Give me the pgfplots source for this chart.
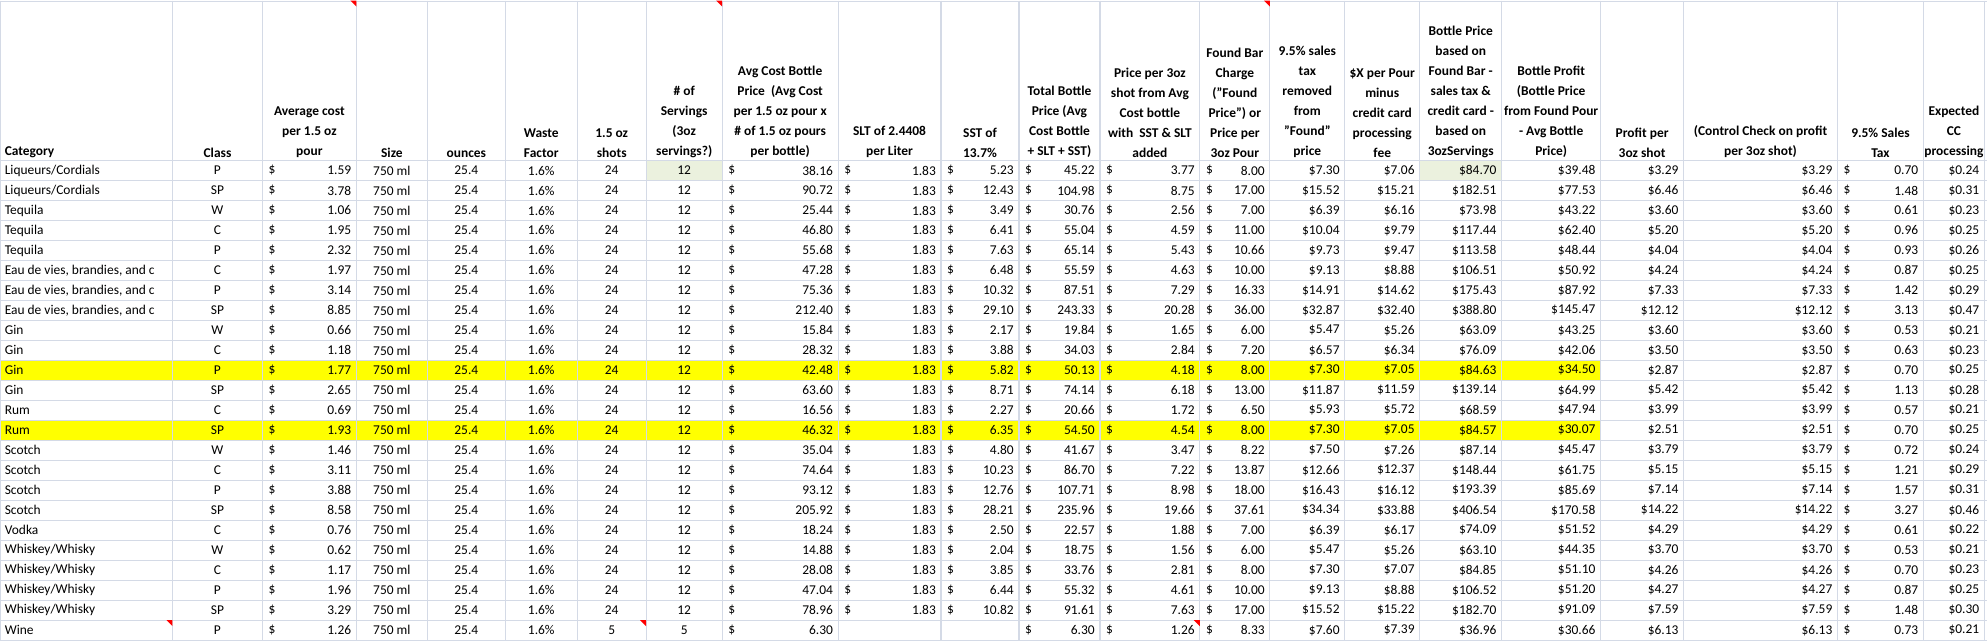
\documentclass[border=0pt]{standalone}
\usepackage{pgfplots}
\pgfplotsset{compat=1.18}
\usepackage{fontspec}
\setmainfont{Carlito}
\definecolor{gridc}{RGB}{212,218,230}
\definecolor{hly}{RGB}{255,255,0}
\definecolor{hlg}{RGB}{235,241,222}
\tikzset{cell/.style={inner sep=0pt,font=\fontsize{13.5}{20}\selectfont}}
\newcommand\Lt[3]{\node[cell,anchor=west] at (axis cs:{#1+4},{170+20*#2}) {#3};}
\newcommand\Ct[4]{\node[cell,anchor=center] at (axis cs:{(#1+#2)/2},{170+20*#3}) {#4};}
\newcommand\Rt[4]{\node[cell,anchor=east] at (axis cs:{#2-5},{170+20*#3}) {#4};}
\newcommand\Dt[4]{\if\relax\detokenize{#4}\relax\else
  \node[cell,anchor=west] at (axis cs:{#1+6},{170+20*#3}) {\$};
  \node[cell,anchor=east] at (axis cs:{#2-5},{170+20*#3}) {#4};\fi}
\newcommand\RowA[9]{\Lt{0}{#1}{#2}\Ct{172}{262}{#1}{#3}\Dt{262}{356}{#1}{#4}%
  \Ct{356}{427}{#1}{750 ml}\Ct{427}{505}{#1}{25.4}\Ct{505}{577}{#1}{1.6\%}%
  \Ct{577}{646}{#1}{#5}\Ct{646}{722}{#1}{#6}\Dt{722}{838}{#1}{#7}\Dt{838}{941}{#1}{#8}\Dt{941}{1019}{#1}{#9}}
\newcommand\RowB[9]{\Dt{1019}{1100}{#1}{#2}\Dt{1100}{1200}{#1}{#3}\Dt{1200}{1270}{#1}{#4}%
  \Rt{1270}{1345}{#1}{\$#5}\Rt{1345}{1420}{#1}{\$#6}\Rt{1420}{1502}{#1}{\$#7}%
  \Rt{1502}{1601}{#1}{\$#8}\Rt{1601}{1684}{#1}{\$#9}}
\newcommand\RowC[4]{\Rt{1684}{1838}{#1}{\$#2}\Dt{1838}{1924}{#1}{#3}\Rt{1924}{1985}{#1}{\$#4}}
\newcommand\Hd[3]{\node[inner sep=0pt,anchor=south,align=center,font=\bfseries\fontsize{13.5}{20}\selectfont] at (axis cs:{(#1+#2)/2},157) {#3};}
\begin{document}
\begin{tikzpicture}
\begin{axis}[width=1988bp,height=641bp,scale only axis,xmin=0,xmax=1988,ymin=0,ymax=641,
  y dir=reverse,hide axis,clip=false]
\addplot[draw=none,forget plot] coordinates {(0,0)(1988,641)};
\fill[hly] (axis cs:0,360) rectangle (axis cs:1601,380);
\fill[hly] (axis cs:0,420) rectangle (axis cs:1601,440);
\fill[hlg] (axis cs:646,160) rectangle (axis cs:722,180);
\fill[hlg] (axis cs:1420,160) rectangle (axis cs:1502,180);
\foreach \x in {0,172,262,356,427,505,577,646,722,838,941,1019,1100,1200,1270,1345,1420,1502,1601,1684,1838,1924,1985}
  {\edef\tmp{\noexpand\draw[gridc,line width=1.2bp] (axis cs:\x,0) -- (axis cs:\x,641);}\tmp}
\draw[gridc,line width=1.2bp] (axis cs:0,0.6) -- (axis cs:1988,0.6);
\foreach \k in {0,...,24}
  {\edef\tmp{\noexpand\draw[gridc,line width=1.2bp] (axis cs:0,160+20*\k) -- (axis cs:1988,160+20*\k);}\tmp}
\fill[red] (axis cs:350,0) -- (axis cs:356,0) -- (axis cs:356,6) -- cycle;
\fill[red] (axis cs:716,0) -- (axis cs:722,0) -- (axis cs:722,6) -- cycle;
\fill[red] (axis cs:1264,0) -- (axis cs:1270,0) -- (axis cs:1270,6) -- cycle;
\fill[red] (axis cs:166,620) -- (axis cs:172,620) -- (axis cs:172,626) -- cycle;
\fill[red] (axis cs:640,620) -- (axis cs:646,620) -- (axis cs:646,626) -- cycle;
\fill[red] (axis cs:1194,620) -- (axis cs:1200,620) -- (axis cs:1200,626) -- cycle;
\node[inner sep=0pt,anchor=south west,font=\bfseries\fontsize{13.5}{20}\selectfont] at (axis cs:4,157) {Category};
\Hd{172}{262}{Class}
\Hd{262}{356}{Average cost\\per 1.5 oz\\pour}
\Hd{356}{427}{Size}
\Hd{427}{505}{ounces}
\Hd{505}{577}{Waste\\Factor}
\Hd{577}{646}{1.5 oz\\shots}
\Hd{646}{722}{\# of\\Servings\\(3oz\\servings?)}
\Hd{722}{838}{Avg Cost Bottle\\Price\ \ (Avg Cost\\per 1.5 oz pour x\\\# of 1.5 oz pours\\per bottle)}
\Hd{838}{941}{SLT of 2.4408\\per Liter}
\Hd{941}{1019}{SST of\\13.7\%}
\Hd{1019}{1100}{Total Bottle\\Price (Avg\\Cost Bottle\\+ SLT + SST)}
\Hd{1100}{1200}{Price per 3oz\\shot from Avg\\Cost bottle\\with\ \ SST \& SLT\\added}
\Hd{1200}{1270}{Found Bar\\Charge\\("Found\\Price") or\\Price per\\3oz Pour}
\Hd{1270}{1345}{9.5\% sales\\tax\\removed\\from\\"Found"\\price}
\Hd{1345}{1420}{\$X per Pour\\minus\\credit card\\processing\\fee}
\Hd{1420}{1502}{Bottle Price\\based on\\Found Bar -\\sales tax \&\\credit card -\\based on\\3ozServings}
\Hd{1502}{1601}{Bottle Profit\\(Bottle Price\\from Found Pour\\- Avg Bottle\\Price)}
\Hd{1601}{1684}{Profit per\\3oz shot}
\Hd{1684}{1838}{(Control Check on profit\\per 3oz shot)}
\Hd{1838}{1924}{9.5\% Sales\\Tax}
\Hd{1924}{1985}{Expected\\CC\\processing}
\RowA{0}{Liqueurs/Cordials}{P}{1.59}{24}{12}{38.16}{1.83}{5.23}\RowB{0}{45.22}{3.77}{8.00}{7.30}{7.06}{84.70}{39.48}{3.29}\RowC{0}{3.29}{0.70}{0.24}
\RowA{1}{Liqueurs/Cordials}{SP}{3.78}{24}{12}{90.72}{1.83}{12.43}\RowB{1}{104.98}{8.75}{17.00}{15.52}{15.21}{182.51}{77.53}{6.46}\RowC{1}{6.46}{1.48}{0.31}
\RowA{2}{Tequila}{W}{1.06}{24}{12}{25.44}{1.83}{3.49}\RowB{2}{30.76}{2.56}{7.00}{6.39}{6.16}{73.98}{43.22}{3.60}\RowC{2}{3.60}{0.61}{0.23}
\RowA{3}{Tequila}{C}{1.95}{24}{12}{46.80}{1.83}{6.41}\RowB{3}{55.04}{4.59}{11.00}{10.04}{9.79}{117.44}{62.40}{5.20}\RowC{3}{5.20}{0.96}{0.25}
\RowA{4}{Tequila}{P}{2.32}{24}{12}{55.68}{1.83}{7.63}\RowB{4}{65.14}{5.43}{10.66}{9.73}{9.47}{113.58}{48.44}{4.04}\RowC{4}{4.04}{0.93}{0.26}
\RowA{5}{Eau de vies, brandies, and c}{C}{1.97}{24}{12}{47.28}{1.83}{6.48}\RowB{5}{55.59}{4.63}{10.00}{9.13}{8.88}{106.51}{50.92}{4.24}\RowC{5}{4.24}{0.87}{0.25}
\RowA{6}{Eau de vies, brandies, and c}{P}{3.14}{24}{12}{75.36}{1.83}{10.32}\RowB{6}{87.51}{7.29}{16.33}{14.91}{14.62}{175.43}{87.92}{7.33}\RowC{6}{7.33}{1.42}{0.29}
\RowA{7}{Eau de vies, brandies, and c}{SP}{8.85}{24}{12}{212.40}{1.83}{29.10}\RowB{7}{243.33}{20.28}{36.00}{32.87}{32.40}{388.80}{145.47}{12.12}\RowC{7}{12.12}{3.13}{0.47}
\RowA{8}{Gin}{W}{0.66}{24}{12}{15.84}{1.83}{2.17}\RowB{8}{19.84}{1.65}{6.00}{5.47}{5.26}{63.09}{43.25}{3.60}\RowC{8}{3.60}{0.53}{0.21}
\RowA{9}{Gin}{C}{1.18}{24}{12}{28.32}{1.83}{3.88}\RowB{9}{34.03}{2.84}{7.20}{6.57}{6.34}{76.09}{42.06}{3.50}\RowC{9}{3.50}{0.63}{0.23}
\RowA{10}{Gin}{P}{1.77}{24}{12}{42.48}{1.83}{5.82}\RowB{10}{50.13}{4.18}{8.00}{7.30}{7.05}{84.63}{34.50}{2.87}\RowC{10}{2.87}{0.70}{0.25}
\RowA{11}{Gin}{SP}{2.65}{24}{12}{63.60}{1.83}{8.71}\RowB{11}{74.14}{6.18}{13.00}{11.87}{11.59}{139.14}{64.99}{5.42}\RowC{11}{5.42}{1.13}{0.28}
\RowA{12}{Rum}{C}{0.69}{24}{12}{16.56}{1.83}{2.27}\RowB{12}{20.66}{1.72}{6.50}{5.93}{5.72}{68.59}{47.94}{3.99}\RowC{12}{3.99}{0.57}{0.21}
\RowA{13}{Rum}{SP}{1.93}{24}{12}{46.32}{1.83}{6.35}\RowB{13}{54.50}{4.54}{8.00}{7.30}{7.05}{84.57}{30.07}{2.51}\RowC{13}{2.51}{0.70}{0.25}
\RowA{14}{Scotch}{W}{1.46}{24}{12}{35.04}{1.83}{4.80}\RowB{14}{41.67}{3.47}{8.22}{7.50}{7.26}{87.14}{45.47}{3.79}\RowC{14}{3.79}{0.72}{0.24}
\RowA{15}{Scotch}{C}{3.11}{24}{12}{74.64}{1.83}{10.23}\RowB{15}{86.70}{7.22}{13.87}{12.66}{12.37}{148.44}{61.75}{5.15}\RowC{15}{5.15}{1.21}{0.29}
\RowA{16}{Scotch}{P}{3.88}{24}{12}{93.12}{1.83}{12.76}\RowB{16}{107.71}{8.98}{18.00}{16.43}{16.12}{193.39}{85.69}{7.14}\RowC{16}{7.14}{1.57}{0.31}
\RowA{17}{Scotch}{SP}{8.58}{24}{12}{205.92}{1.83}{28.21}\RowB{17}{235.96}{19.66}{37.61}{34.34}{33.88}{406.54}{170.58}{14.22}\RowC{17}{14.22}{3.27}{0.46}
\RowA{18}{Vodka}{C}{0.76}{24}{12}{18.24}{1.83}{2.50}\RowB{18}{22.57}{1.88}{7.00}{6.39}{6.17}{74.09}{51.52}{4.29}\RowC{18}{4.29}{0.61}{0.22}
\RowA{19}{Whiskey/Whisky}{W}{0.62}{24}{12}{14.88}{1.83}{2.04}\RowB{19}{18.75}{1.56}{6.00}{5.47}{5.26}{63.10}{44.35}{3.70}\RowC{19}{3.70}{0.53}{0.21}
\RowA{20}{Whiskey/Whisky}{C}{1.17}{24}{12}{28.08}{1.83}{3.85}\RowB{20}{33.76}{2.81}{8.00}{7.30}{7.07}{84.85}{51.10}{4.26}\RowC{20}{4.26}{0.70}{0.23}
\RowA{21}{Whiskey/Whisky}{P}{1.96}{24}{12}{47.04}{1.83}{6.44}\RowB{21}{55.32}{4.61}{10.00}{9.13}{8.88}{106.52}{51.20}{4.27}\RowC{21}{4.27}{0.87}{0.25}
\RowA{22}{Whiskey/Whisky}{SP}{3.29}{24}{12}{78.96}{1.83}{10.82}\RowB{22}{91.61}{7.63}{17.00}{15.52}{15.22}{182.70}{91.09}{7.59}\RowC{22}{7.59}{1.48}{0.30}
\RowA{23}{Wine}{P}{1.26}{5}{5}{6.30}{}{}\RowB{23}{6.30}{1.26}{8.33}{7.60}{7.39}{36.96}{30.66}{6.13}\RowC{23}{6.13}{0.73}{0.21}
\end{axis}
\end{tikzpicture}
\end{document}
